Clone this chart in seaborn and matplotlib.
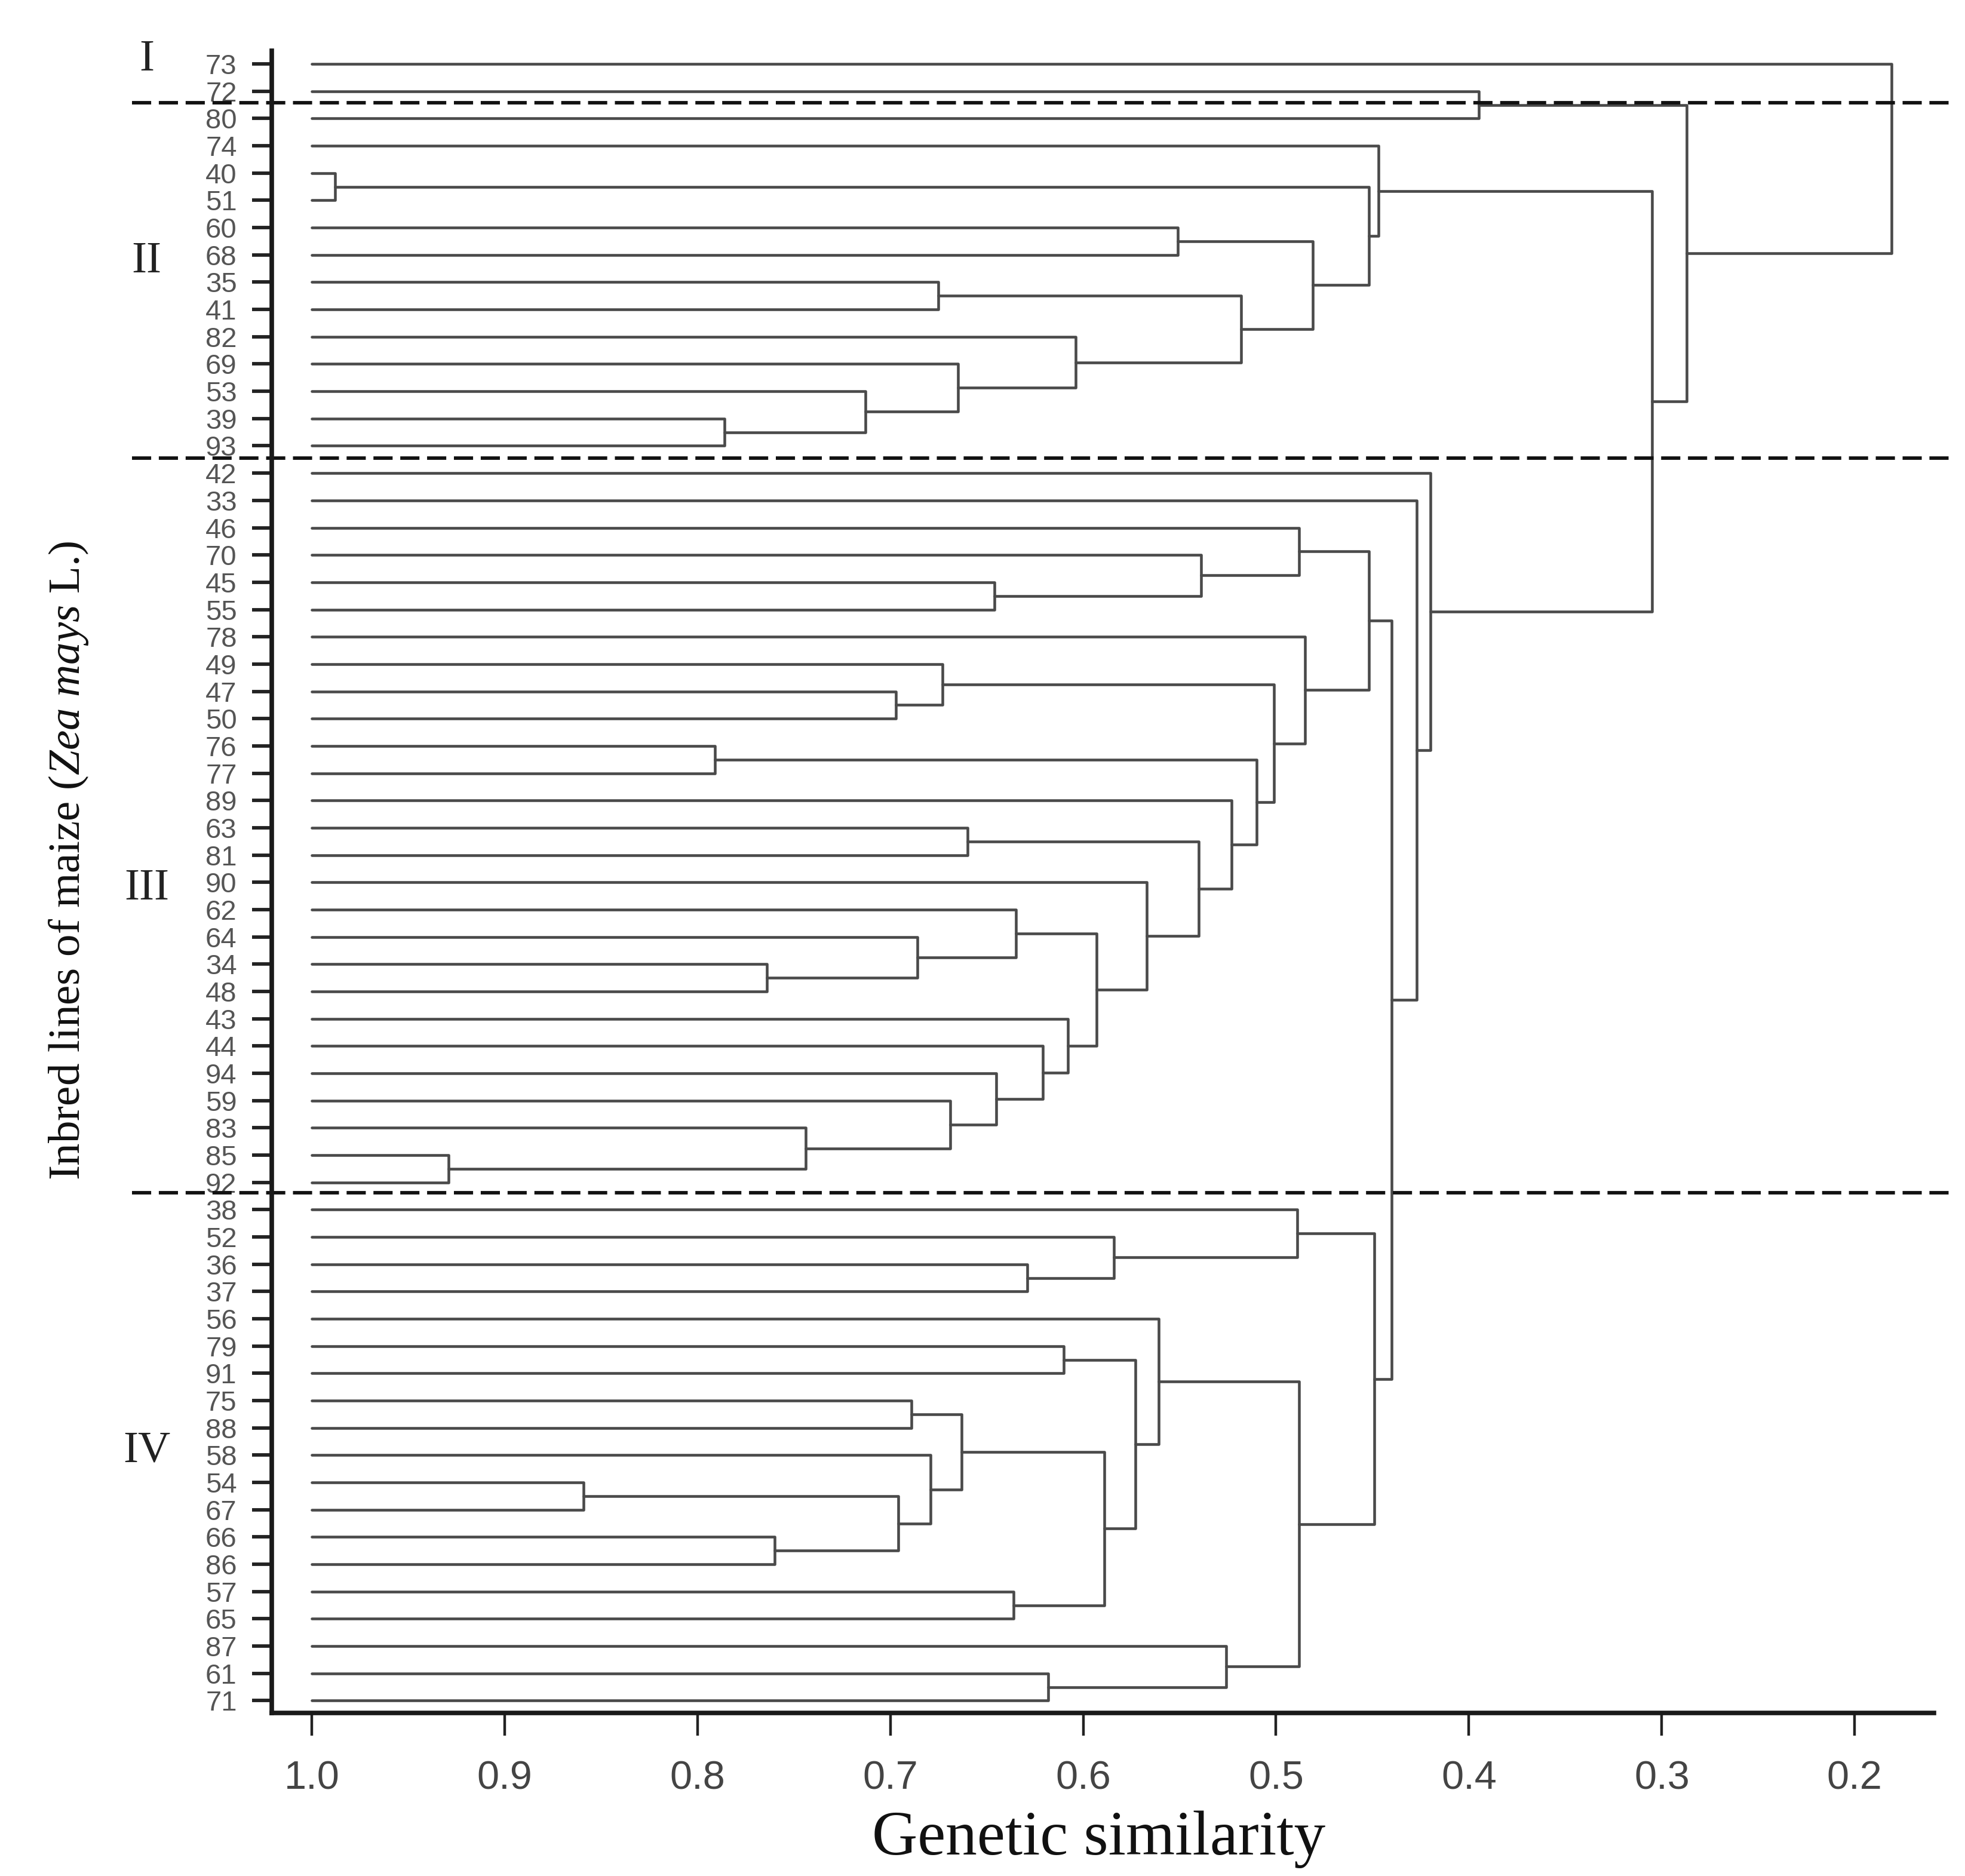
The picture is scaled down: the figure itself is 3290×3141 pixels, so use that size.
import matplotlib
matplotlib.use("Agg")
import matplotlib.pyplot as plt
import seaborn as sns
import pandas as pd

# leaf order, top to bottom
leaves = ["73",
          "72", "80", "74", "40", "51", "60", "68", "35", "41", "82", "69", "53", "39", "93",
          "42", "33", "46", "70", "45", "55", "78", "49", "47", "50", "76", "77", "89", "63",
          "81", "90", "62", "64", "34", "48", "43", "44", "94", "59", "83", "85", "92",
          "38", "52", "36", "37", "56", "79", "91", "75", "88", "58", "54", "67", "66", "86",
          "57", "65", "87", "61", "71"]

# merges: (new cluster, upper child, lower child, similarity)
merges_II = [
    ("a1", "72", "80", 0.395),
    ("a2", "40", "51", 0.988),
    ("a3", "60", "68", 0.551),
    ("a4", "35", "41", 0.675),
    ("a5", "39", "93", 0.786),
    ("a6", "53", "a5", 0.713),
    ("a7", "69", "a6", 0.665),
    ("a8", "82", "a7", 0.604),
    ("a9", "a4", "a8", 0.518),
    ("a10", "a3", "a9", 0.481),
    ("a11", "a2", "a10", 0.452),
    ("a12", "74", "a11", 0.447),
]
merges_III = [
    ("b1", "45", "55", 0.646),
    ("b2", "70", "b1", 0.539),
    ("b3", "46", "b2", 0.488),
    ("b4", "47", "50", 0.697),
    ("b5", "49", "b4", 0.673),
    ("b6", "76", "77", 0.791),
    ("b7", "63", "81", 0.660),
    ("b8", "34", "48", 0.764),
    ("b9", "64", "b8", 0.686),
    ("b10", "62", "b9", 0.635),
    ("b11", "85", "92", 0.929),
    ("b12", "83", "b11", 0.744),
    ("b13", "59", "b12", 0.669),
    ("b14", "94", "b13", 0.645),
    ("b15", "44", "b14", 0.621),
    ("b16", "43", "b15", 0.608),
    ("b17", "b10", "b16", 0.593),
    ("b18", "90", "b17", 0.567),
    ("b19", "b7", "b18", 0.540),
    ("b20", "89", "b19", 0.523),
    ("b21", "b6", "b20", 0.510),
    ("b22", "b5", "b21", 0.501),
    ("b23", "78", "b22", 0.485),
    ("b24", "b3", "b23", 0.452),
]
merges_IV = [
    ("d1", "36", "37", 0.629),
    ("d2", "52", "d1", 0.584),
    ("d3", "38", "d2", 0.489),
    ("d4", "79", "91", 0.610),
    ("d5", "75", "88", 0.689),
    ("d6", "54", "67", 0.859),
    ("d7", "66", "86", 0.760),
    ("d8", "d6", "d7", 0.696),
    ("d9", "58", "d8", 0.679),
    ("d10", "d5", "d9", 0.663),
    ("d11", "57", "65", 0.636),
    ("d12", "d10", "d11", 0.589),
    ("d13", "d4", "d12", 0.573),
    ("d14", "56", "d13", 0.561),
    ("d15", "61", "71", 0.618),
    ("d16", "87", "d15", 0.526),
    ("d17", "d14", "d16", 0.488),
    ("d18", "d3", "d17", 0.449),
]
merges_top = [
    ("e1", "b24", "d18", 0.440),
    ("e2", "33", "e1", 0.427),
    ("e3", "42", "e2", 0.420),
    ("e4", "a12", "e3", 0.305),
    ("e5", "a1", "e4", 0.287),
    ("root", "73", "e5", 0.181),
]

group_names = ["I", "II", "III", "IV"]
group_rows = [-0.15, 7.25, 30.25, 50.85]
cut_rows = [1.42, 14.45, 41.38]
xticks = [1.0, 0.9, 0.8, 0.7, 0.6, 0.5, 0.4, 0.3, 0.2]

# build segments of the dendrogram
pos = {lf: i for i, lf in enumerate(leaves)}
hgt = {lf: 1.0 for lf in leaves}
rows = []
seg = 0
for name, a, b, s in merges_II + merges_III + merges_IV + merges_top:
    for x, y in [(hgt[a], pos[a]), (s, pos[a]), (s, pos[b]), (hgt[b], pos[b])]:
        rows.append({"seg": seg, "x": x, "y": y})
    seg += 1
    pos[name] = (pos[a] + pos[b]) / 2
    hgt[name] = s
df = pd.DataFrame(rows)

sns.set_theme(style="ticks")
plt.rcParams["font.family"] = ["Liberation Sans", "DejaVu Sans"]
plt.rcParams["mathtext.fontset"] = "custom"
plt.rcParams["mathtext.rm"] = "Liberation Serif"
plt.rcParams["mathtext.it"] = "Liberation Serif:italic"

fig = plt.figure(figsize=(32.9, 31.41), dpi=100)
ax = fig.add_axes([0.1383, 0.0869, 0.9841 - 0.1383, 0.9729 - 0.0869])

sns.lineplot(data=df, x="x", y="y", units="seg", estimator=None, sort=False,
             color="#4a4a4a", lw=3.3, ax=ax, legend=False)

ax.set_xlim(1.0207, 0.159)
ax.set_ylim(60.45, -0.48)

ax.set_yticks(range(len(leaves)))
ax.set_yticklabels(leaves, fontsize=34, color="#555555")
ax.set_xticks(xticks)
ax.set_xticklabels([f"{t:.1f}" for t in xticks], fontsize=48, color="#444444")
ax.tick_params(axis="y", length=24, width=4.2, pad=18, color="#222222")
ax.tick_params(axis="x", length=27, width=3.2, pad=30, color="#222222")
sns.despine(ax=ax)
for sp in ["left", "bottom"]:
    ax.spines[sp].set_linewidth(5.5)
    ax.spines[sp].set_color("#1a1a1a")
ax.set_xlabel("")
ax.set_ylabel("")

for r in cut_rows:
    ax.plot([1.0932, 0.148], [r, r], color="#111111", lw=4.2,
            dashes=(5.5, 2.2), clip_on=False)

for g, r in zip(group_names, group_rows):
    ax.text(1.0855, r, g, fontsize=54, family="Liberation Serif",
            color="#222222", ha="center", va="center", clip_on=False)

fig.text(1840 / 3290, 1 - 3080 / 3141, "Genetic similarity", fontsize=76,
         family="Liberation Serif", color="#111111", ha="center", va="center")
fig.text(115 / 3290, 1 - 1441 / 3141, r"Inbred lines of maize ($\mathit{Zea\ mays}$ L.)",
         fontsize=54, family="Liberation Serif", color="#111111",
         rotation=90, ha="center", va="center")

fig.savefig("out.png", dpi=100)
